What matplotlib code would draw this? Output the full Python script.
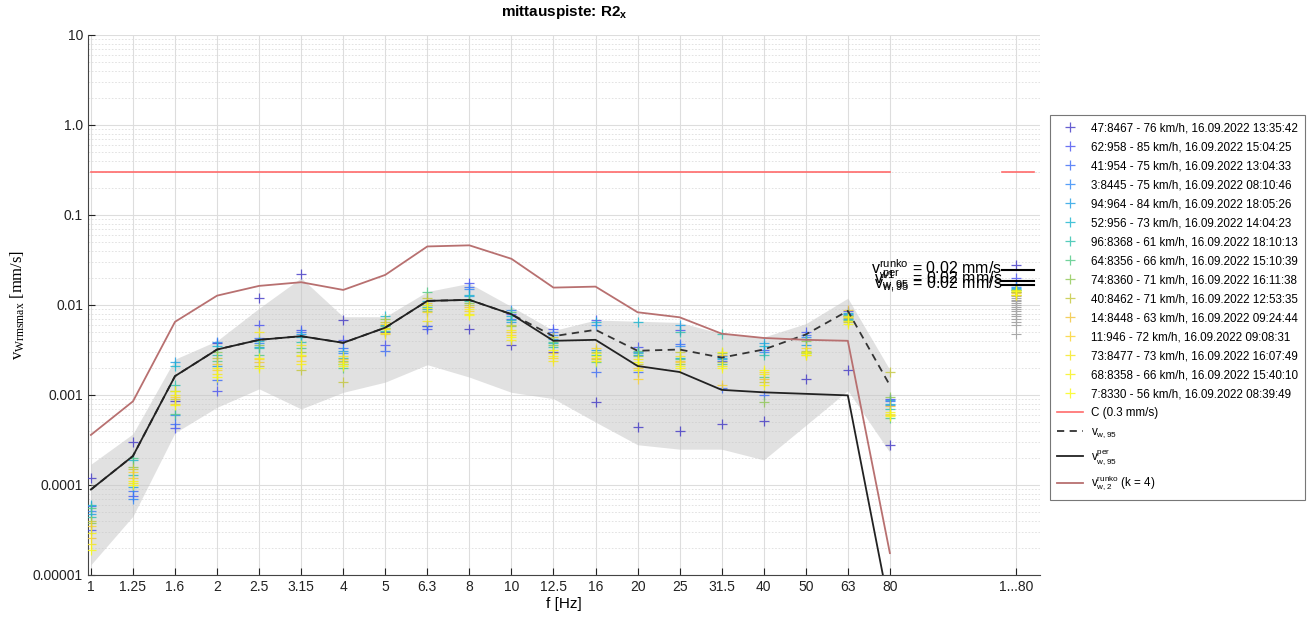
import matplotlib
matplotlib.use("Agg")

import numpy as np
import matplotlib.pyplot as plt
from matplotlib.colors import LinearSegmentedColormap

plt.rcParams['font.family'] = ['Liberation Sans', 'DejaVu Sans']
plt.rcParams['mathtext.fontset'] = 'custom'
plt.rcParams['mathtext.rm'] = 'Liberation Sans'
plt.rcParams['mathtext.it'] = 'Liberation Sans'

# --- data -------------------------------------------------------------
freq_labels = ['1', '1.25', '1.6', '2', '2.5', '3.15', '4', '5', '6.3', '8', '10',
               '12.5', '16', '20', '25', '31.5', '40', '50', '63', '80', '1...80']

series_labels = [
    '47:8467 - 76 km/h, 16.09.2022 13:35:42',
    '62:958 - 85 km/h, 16.09.2022 15:04:25',
    '41:954 - 75 km/h, 16.09.2022 13:04:33',
    '3:8445 - 75 km/h, 16.09.2022 08:10:46',
    '94:964 - 84 km/h, 16.09.2022 18:05:26',
    '52:956 - 73 km/h, 16.09.2022 14:04:23',
    '96:8368 - 61 km/h, 16.09.2022 18:10:13',
    '64:8356 - 66 km/h, 16.09.2022 15:10:39',
    '74:8360 - 71 km/h, 16.09.2022 16:11:38',
    '40:8462 - 71 km/h, 16.09.2022 12:53:35',
    '14:8448 - 63 km/h, 16.09.2022 09:24:44',
    '11:946 - 72 km/h, 16.09.2022 09:08:31',
    '73:8477 - 73 km/h, 16.09.2022 16:07:49',
    '68:8358 - 66 km/h, 16.09.2022 15:40:10',
    '7:8330 - 56 km/h, 16.09.2022 08:39:49',
]

# one row per passage, 20 third-octave bands + the 1...80 total (mm/s)
s00 = [1.2e-4, 3.0e-4, 8.5e-4, 3.8e-3, 1.2e-2, 2.2e-2, 6.8e-3, 5.0e-3, 5.9e-3, 5.4e-3, 3.6e-3, 3.0e-3, 8.3e-4, 4.4e-4, 4.0e-4, 4.7e-4, 5.2e-4, 1.5e-3, 1.9e-3, 2.8e-4, 0.028]
s01 = [3.2e-5, 7.5e-5, 4.3e-4, 1.1e-3, 6.0e-3, 5.3e-3, 4.1e-3, 3.6e-3, 5.4e-3, 1.75e-2, 8.0e-3, 5.4e-3, 6.8e-3, 3.4e-3, 5.3e-3, 2.4e-3, 3.2e-3, 5.0e-3, 8.5e-3, 9.0e-4, 0.020]
s02 = [5.8e-5, 8.5e-5, 4.7e-4, 1.45e-3, 4.3e-3, 5.0e-3, 3.3e-3, 3.1e-3, 5.8e-3, 1.6e-2, 7.0e-3, 5.0e-3, 1.8e-3, 1.8e-3, 3.7e-3, 1.2e-3, 1.0e-3, 4.6e-3, 7.5e-3, 8.5e-4, 0.0165]
s03 = [5.2e-5, 7.0e-5, 6.0e-4, 3.9e-3, 3.8e-3, 4.5e-3, 2.9e-3, 5.5e-3, 1.0e-2, 1.5e-2, 8.8e-3, 4.6e-3, 6.0e-3, 3.0e-3, 3.5e-3, 2.7e-3, 3.0e-3, 4.4e-3, 8.0e-3, 7.8e-4, 0.016]
s04 = [4.7e-5, 9.5e-5, 2.3e-3, 2.1e-3, 3.4e-3, 4.7e-3, 3.1e-3, 6.0e-3, 9.0e-3, 1.25e-2, 6.5e-3, 4.2e-3, 3.2e-3, 2.8e-3, 6.0e-3, 2.5e-3, 3.8e-3, 3.6e-3, 7.0e-3, 8.7e-4, 0.0155]
s05 = [6.0e-5, 1.9e-4, 2.1e-3, 3.5e-3, 4.0e-3, 4.4e-3, 2.2e-3, 7.6e-3, 1.1e-2, 1.3e-2, 7.5e-3, 3.8e-3, 6.5e-3, 6.5e-3, 2.6e-3, 2.6e-3, 3.5e-3, 4.2e-3, 8.2e-3, 8.0e-4, 0.015]
s06 = [4.4e-5, 1.3e-4, 1.3e-3, 2.8e-3, 3.3e-3, 3.9e-3, 2.6e-3, 5.2e-3, 9.5e-3, 1.1e-2, 6.8e-3, 3.4e-3, 2.8e-3, 2.9e-3, 5.0e-3, 4.8e-3, 2.8e-3, 3.0e-3, 7.8e-3, 7.0e-4, 0.0148]
s07 = [5.5e-5, 2.0e-4, 6.2e-4, 2.4e-3, 2.8e-3, 3.3e-3, 2.0e-3, 5.8e-3, 1.38e-2, 1.15e-2, 8.3e-3, 3.9e-3, 2.3e-3, 3.1e-3, 2.5e-3, 2.2e-3, 1.6e-3, 2.9e-3, 6.8e-3, 5.6e-4, 0.0145]
s08 = [3.8e-5, 1.6e-4, 1.1e-3, 3.0e-3, 3.6e-3, 3.0e-3, 2.4e-3, 7.0e-3, 8.6e-3, 1.05e-2, 5.8e-3, 3.6e-3, 3.0e-3, 2.7e-3, 2.2e-3, 2.9e-3, 8.3e-4, 4.0e-3, 7.2e-3, 9.5e-4, 0.014]
s09 = [4.0e-5, 1.5e-4, 9.0e-4, 2.6e-3, 2.1e-3, 1.9e-3, 1.4e-3, 6.5e-3, 1.2e-2, 1.0e-2, 6.0e-3, 4.4e-3, 2.5e-3, 2.2e-3, 3.0e-3, 2.3e-3, 1.4e-3, 3.1e-3, 6.5e-3, 1.8e-3, 0.0138]
s10 = [2.6e-5, 1.2e-4, 8.0e-4, 2.2e-3, 2.3e-3, 2.7e-3, 2.5e-3, 4.8e-3, 1.05e-2, 9.5e-3, 5.0e-3, 2.9e-3, 2.6e-3, 2.0e-3, 2.4e-3, 2.8e-3, 1.5e-3, 2.8e-3, 8.8e-3, 7.5e-4, 0.0135]
s11 = [3.5e-5, 1.4e-4, 9.5e-4, 1.9e-3, 2.5e-3, 2.4e-3, 2.3e-3, 6.2e-3, 8.4e-3, 8.5e-3, 4.6e-3, 2.6e-3, 3.3e-3, 1.5e-3, 2.3e-3, 1.3e-3, 1.8e-3, 3.3e-3, 7.4e-3, 6.0e-4, 0.013]
s12 = [2.2e-5, 1.05e-4, 1.0e-3, 1.7e-3, 5.0e-3, 3.6e-3, 2.7e-3, 5.4e-3, 6.6e-3, 8.0e-3, 4.1e-3, 2.4e-3, 2.9e-3, 2.5e-3, 2.7e-3, 2.1e-3, 1.7e-3, 2.9e-3, 6.6e-3, 6.2e-4, 0.0145]
s13 = [2.9e-5, 1.1e-4, 1.1e-3, 2.0e-3, 2.6e-3, 2.2e-3, 2.1e-3, 4.9e-3, 9.2e-3, 9.0e-3, 5.3e-3, 2.7e-3, 2.4e-3, 1.9e-3, 2.0e-3, 3.0e-3, 1.3e-3, 3.0e-3, 7.6e-3, 6.5e-4, 0.0128]
s14 = [1.9e-5, 1.0e-4, 7.8e-4, 1.6e-3, 2.0e-3, 2.8e-3, 2.2e-3, 5.6e-3, 1.0e-2, 7.8e-3, 4.4e-3, 3.2e-3, 2.7e-3, 2.3e-3, 2.1e-3, 2.0e-3, 1.9e-3, 2.8e-3, 6.2e-3, 5.8e-4, 0.0142]
series_values = [s00, s01, s02, s03, s04, s05, s06, s07, s08, s09, s10, s11, s12, s13, s14]

# other passages, only shown in the 1...80 column
other_total = [0.0138, 0.013, 0.0125, 0.012, 0.0115, 0.011, 0.0105, 0.010, 0.0095,
               0.009, 0.0085, 0.008, 0.0075, 0.007, 0.0065, 0.006, 0.0047]

band_upper = [1.7e-4, 3.7e-4, 2.5e-3, 4.0e-3, 9.2e-3, 2.0e-2, 7.4e-3, 7.4e-3, 1.41e-2, 1.74e-2,
              9.6e-3, 5.2e-3, 6.8e-3, 6.6e-3, 6.4e-3, 4.8e-3, 4.4e-3, 6.2e-3, 1.19e-2, 1.9e-3]
band_lower = [1.3e-5, 4.5e-5, 3.8e-4, 7.3e-4, 1.17e-3, 7.0e-4, 1.07e-3, 1.39e-3, 2.17e-3, 1.58e-3,
              1.07e-3, 9.1e-4, 5.0e-4, 2.8e-4, 2.5e-4, 2.5e-4, 1.9e-4, 4.6e-4, 1.12e-3, 2.3e-4]

v_w95 = [8.9e-5, 2.1e-4, 1.62e-3, 3.2e-3, 4.1e-3, 4.5e-3, 3.8e-3, 5.6e-3, 1.11e-2, 1.14e-2,
         7.9e-3, 4.5e-3, 5.3e-3, 3.1e-3, 3.2e-3, 2.6e-3, 3.2e-3, 4.7e-3, 8.6e-3, 1.28e-3]
v_per95 = [8.9e-5, 2.1e-4, 1.62e-3, 3.2e-3, 4.1e-3, 4.5e-3, 3.8e-3, 5.6e-3, 1.11e-2, 1.14e-2,
           7.9e-3, 4.0e-3, 4.1e-3, 2.1e-3, 1.8e-3, 1.14e-3, 1.07e-3, 1.03e-3, 9.9e-4, 4.0e-6]
v_runko2 = [3.6e-4, 8.5e-4, 6.5e-3, 1.27e-2, 1.63e-2, 1.79e-2, 1.47e-2, 2.16e-2, 4.47e-2, 4.6e-2,
            3.26e-2, 1.56e-2, 1.6e-2, 8.3e-3, 7.3e-3, 4.8e-3, 4.3e-3, 4.1e-3, 4.0e-3, 1.75e-5]

limit_c = 0.3
summary_values = [0.0246, 0.0185, 0.0167]
summary_labels = [r'$\mathdefault{v^{runko}_{w1}}$ = 0.02 mm/s',
                  r'$\mathdefault{v^{per}_{w,95}}$ = 0.02 mm/s',
                  r'$\mathdefault{v_{w,95}}$ = 0.02 mm/s']

# --- plot -------------------------------------------------------------
x_bands = np.arange(20)
x_total = 22
x_all = np.append(x_bands, x_total)

parula = LinearSegmentedColormap.from_list('parula', [
    (0.2422, 0.1504, 0.6603), (0.2810, 0.3228, 0.9579), (0.1786, 0.5289, 0.9682),
    (0.0689, 0.6948, 0.8394), (0.2161, 0.7843, 0.5923), (0.6720, 0.7793, 0.2227),
    (0.9970, 0.7659, 0.2199), (0.9598, 0.9218, 0.0948), (0.9763, 0.9831, 0.0538)])

fig = plt.figure(figsize=(13.09, 6.18), dpi=100)
ax = fig.add_axes([0.0672, 0.0696, 0.7273, 0.8738])

ax.fill_between(x_bands, band_lower, band_upper, color='#c4c4c4', alpha=0.5, lw=0, zorder=1)

ax.plot(np.full(len(other_total), x_total), other_total, '+', color='#a8a8a8',
        ms=7, mew=0.8, zorder=2)

for i, (lab, vals) in enumerate(zip(series_labels, series_values)):
    c = parula(0.05 + 0.95 * i / 14)
    ax.plot(x_all, vals, '+', color=c, alpha=0.8, ms=7, mew=0.9, label=lab, zorder=3)

ax.plot([x_bands[0], x_bands[-1]], [limit_c, limit_c], color='#ff6b6b', lw=1.2,
        label='C (0.3 mm/s)', zorder=4)
ax.plot([x_total - 0.33, x_total + 0.43], [limit_c, limit_c], color='#ff6b6b', lw=1.2, zorder=4)

ax.plot(x_bands, v_w95, '--', color='#333333', lw=1.3, dashes=(4, 3),
        label=r'$\mathdefault{v_{w,95}}$', zorder=5)
ax.plot(x_bands, v_per95, '-', color='#222222', lw=1.3,
        label=r'$\mathdefault{v^{per}_{w,95}}$', zorder=5)
ax.plot(x_bands, v_runko2, '-', color='#b87070', lw=1.3,
        label=r'$\mathdefault{v^{runko}_{w,2}}$ (k = 4)', zorder=5)

for val, txt in zip(summary_values, summary_labels):
    ax.plot([x_total - 0.33, x_total + 0.43], [val, val], color='black', lw=1.5, zorder=6)
    ax.text(x_total - 0.33, val, txt, ha='right', va='center', fontsize=11.5, zorder=6)

ax.set_yscale('log')
ax.set_ylim(1e-5, 10)
ax.set_xlim(-0.07, 22.57)
ax.set_yticks([1e-5, 1e-4, 1e-3, 1e-2, 0.1, 1.0, 10])
ax.set_yticklabels(['0.00001', '0.0001', '0.001', '0.01', '0.1', '1.0', '10'])
ax.set_xticks(x_all)
ax.set_xticklabels(freq_labels)
ax.tick_params(axis='both', which='major', direction='in', length=5, labelsize=10,
               color='#222222', labelcolor='#222222')
ax.tick_params(axis='y', which='minor', left=False)

ax.grid(True, which='major', color='#dddddd', lw=0.8, ls='-')
ax.grid(True, which='minor', axis='y', color='#dedede', lw=0.6, ls=(0, (2, 2)))
ax.set_axisbelow(True)
for side in ['top', 'right']:
    ax.spines[side].set_visible(False)
for side in ['left', 'bottom']:
    ax.spines[side].set_color('#444444')

ax.set_title(r'mittauspiste: R2$_{\mathdefault{x}}$', fontsize=11, fontweight='bold', pad=14)
ax.set_xlabel('f [Hz]', fontsize=11, labelpad=2)
ax.set_ylabel(r'$\mathdefault{v_{W\mathregular{rmsmax}}}$ [mm/s]', fontsize=12,
              fontfamily='Liberation Serif', labelpad=4)

leg = ax.legend(loc='upper left', bbox_to_anchor=(1050 / 1309, 1 - 115 / 618),
                bbox_transform=fig.transFigure, fontsize=8.4, frameon=True, fancybox=False,
                edgecolor='#555555', handlelength=2.2, labelspacing=0.6, borderpad=0.6,
                handletextpad=0.7, borderaxespad=0)
leg.get_frame().set_linewidth(0.8)

fig.savefig('out.png', dpi=100)
